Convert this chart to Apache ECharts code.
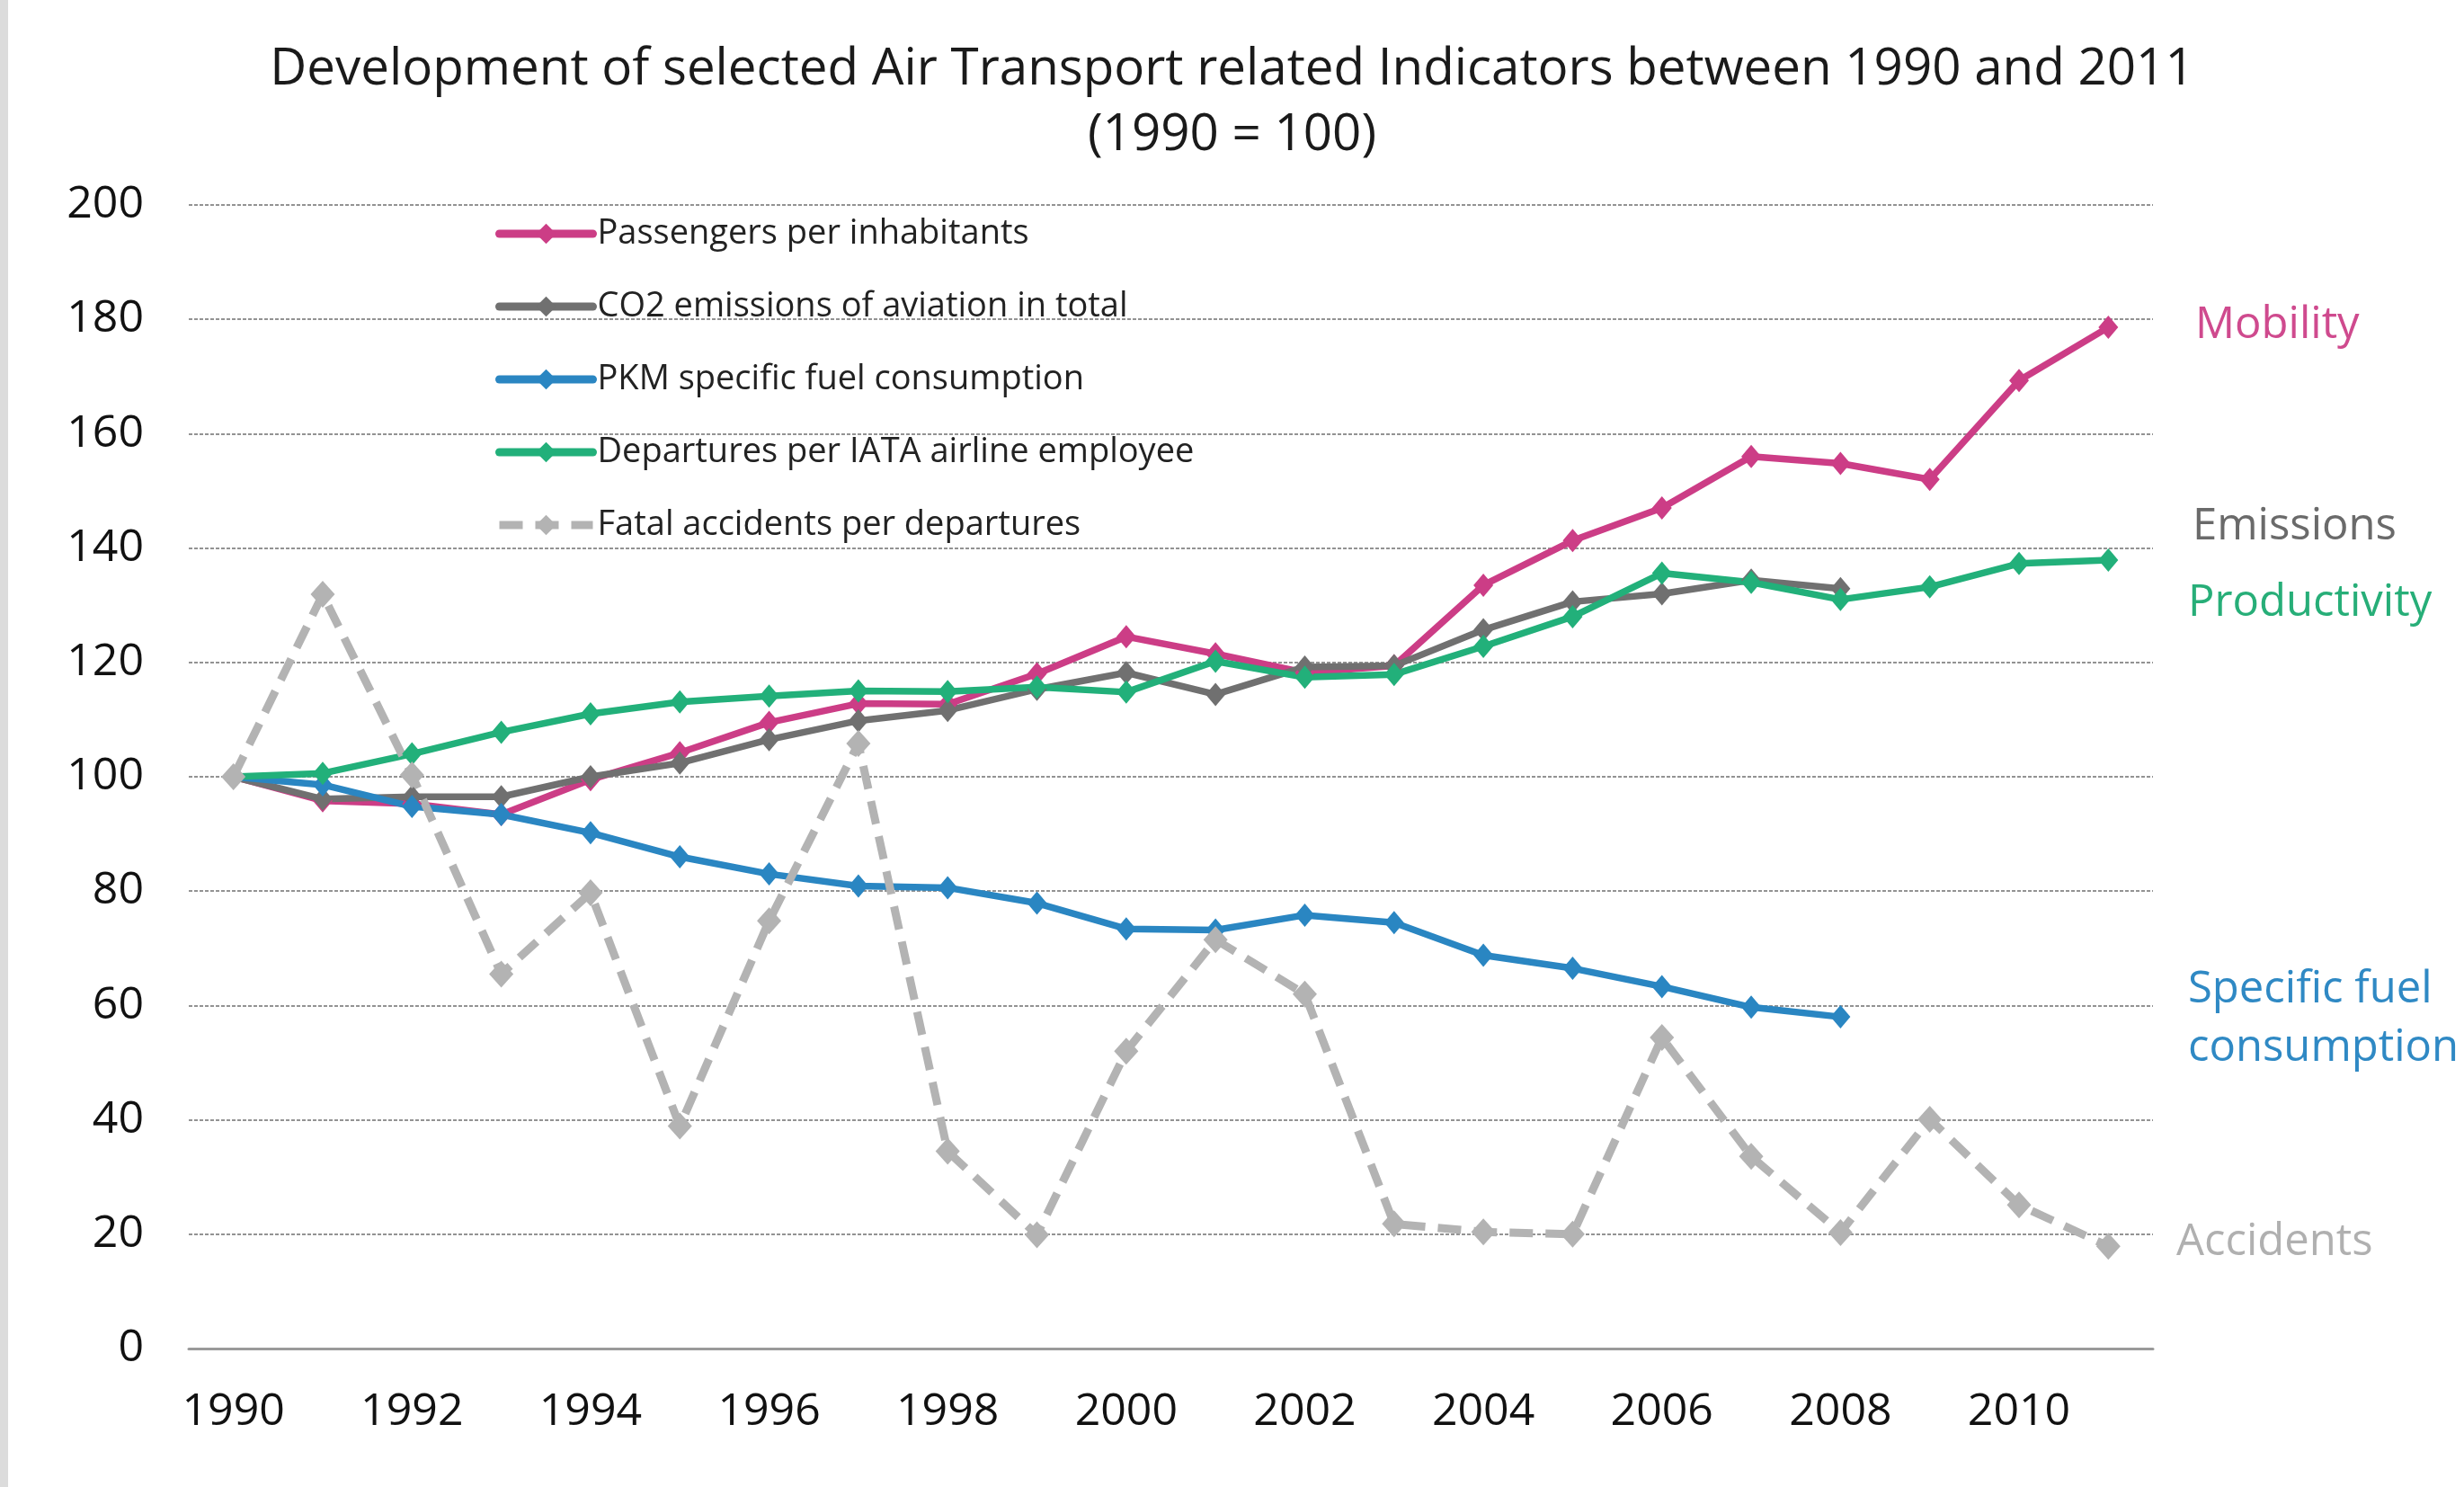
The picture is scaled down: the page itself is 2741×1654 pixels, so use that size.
<!DOCTYPE html>
<html>
<head>
<meta charset="utf-8">
<script src="https://cdn.jsdelivr.net/npm/echarts@6/dist/echarts.min.js"></script>
<style>
html,body{margin:0;padding:0;background:#fff;}
#chart{width:2741px;height:1654px;}
</style>
</head>
<body>
<div id="chart"></div>
<script>
const years = ['1990','1991','1992','1993','1994','1995','1996','1997','1998','1999','2000','2001','2002','2003','2004','2005','2006','2007','2008','2009','2010','2011'];
const yTicks = [0,20,40,60,80,100,120,140,160,180,200];
const passengers = [100, 95.8, 95.3, 93.4, 99.5, 104.2, 109.5, 112.8, 112.7, 118, 124.5, 121.5, 118.2, 119.4, 133.5, 141.3, 147, 156, 154.8, 152, 169.3, 178.6];
const co2 = [100, 96.1, 96.5, 96.5, 100, 102.4, 106.5, 109.8, 111.6, 115.3, 118.2, 114.4, 119.2, 119.4, 125.7, 130.6, 132, 134.4, 132.9, null, null, null];
const pkm = [100, 98.6, 94.8, 93.4, 90.2, 86, 83, 80.9, 80.6, 77.9, 73.4, 73.2, 75.8, 74.5, 68.8, 66.5, 63.3, 59.7, 58, null, null, null];
const departures = [100, 100.6, 104, 107.8, 111, 113.1, 114.1, 115, 114.9, 115.7, 114.8, 120.2, 117.4, 117.9, 122.8, 128, 135.6, 134, 131, 133.2, 137.3, 137.9];
const accidents = [100, 131.9, 100.3, 65.5, 79.7, 38.9, 74.8, 105.8, 34.5, 19.9, 52, 71.5, 62, 21.8, 20.4, 20, 54.4, 33.6, 20.3, 40.1, 25.1, 17.9];
const seriesNames = ['Passengers per inhabitants','CO2 emissions of aviation in total','PKM specific fuel consumption','Departures per IATA airline employee','Fatal accidents per departures'];
const colors = ['#CC3D86','#707070','#2A86C2','#22B07A','#B3B3B3'];
const sideLabels = ['Mobility','Emissions','Productivity','Specific fuel\nconsumption','Accidents'];

const FONT = '"Open Sans", "Noto Sans", sans-serif';
const chart = echarts.init(document.getElementById('chart'), null, {renderer:'canvas'});

function lineSeries(name, data, color, dashed) {
  return {
    name: name,
    type: 'line',
    data: data,
    symbol: 'diamond',
    symbolSize: dashed ? [27, 30] : [22, 26],
    showAllSymbol: true,
    connectNulls: false,
    itemStyle: {color: color},
    lineStyle: {color: color, width: dashed ? 9 : 7.5, type: dashed ? [26, 14] : 'solid', cap: dashed ? 'butt' : 'round', join: 'round'},
    emphasis: {disabled: true},
    animation: false
  };
}

const option = {
  backgroundColor: '#ffffff',
  animation: false,
  title: {
    text: 'Development of selected Air Transport related Indicators between 1990 and 2011\n(1990 = 100)',
    left: 'center',
    top: 36,
    textStyle: {fontFamily: FONT, fontSize: 56.5, fontWeight: 'normal', color: '#1a1a1a', lineHeight: 73}
  },
  legend: {
    orient: 'vertical',
    left: 551,
    top: 240,
    padding: 0,
    itemWidth: 104,
    itemHeight: 28,
    itemGap: 41,
    data: seriesNames,
    lineStyle: {width: 9},
    textStyle: {fontFamily: FONT, fontSize: 38, color: '#222', lineHeight: 40}
  },
  grid: {left: 210, right: 346, top: 228, bottom: 154, containLabel: false},
  xAxis: {
    type: 'category',
    data: years,
    boundaryGap: true,
    axisLine: {show: true, lineStyle: {color: '#9a9a9a', width: 3}},
    axisTick: {show: false},
    axisLabel: {interval: 1, fontFamily: FONT, fontSize: 50, color: '#111', margin: 46},
    splitLine: {show: false}
  },
  yAxis: {
    type: 'value',
    min: yTicks[0],
    max: yTicks[yTicks.length - 1],
    interval: 20,
    axisLine: {show: false},
    axisTick: {show: false},
    axisLabel: {fontFamily: FONT, fontSize: 50, color: '#111', margin: 50},
    splitLine: {show: true, lineStyle: {color: '#707070', width: 1.5, type: [4, 2]}}
  },
  graphic: [
    {type: 'rect', left: 0, top: 0, shape: {width: 9, height: 1654}, style: {fill: '#dcdcdc'}, silent: true},
    {type: 'text', left: 2442, top: 338, style: {text: sideLabels[0], fill: '#CF4A8E', font: '49px ' + FONT}},
    {type: 'text', left: 2439, top: 562, style: {text: sideLabels[1], fill: '#6a6a6a', font: '49px ' + FONT}},
    {type: 'text', left: 2434, top: 647, style: {text: sideLabels[2], fill: '#27AE78', font: '49px ' + FONT}},
    {type: 'text', left: 2434, top: 1069, style: {text: sideLabels[3], fill: '#2F89C4', font: '49px ' + FONT, lineHeight: 65}},
    {type: 'text', left: 2421, top: 1358, style: {text: sideLabels[4], fill: '#B0B0B0', font: '49px ' + FONT}}
  ],
  series: [
    lineSeries(seriesNames[0], passengers, colors[0], false),
    lineSeries(seriesNames[1], co2, colors[1], false),
    lineSeries(seriesNames[2], pkm, colors[2], false),
    lineSeries(seriesNames[3], departures, colors[3], false),
    lineSeries(seriesNames[4], accidents, colors[4], true)
  ]
};
chart.setOption(option);
</script>
</body>
</html>
